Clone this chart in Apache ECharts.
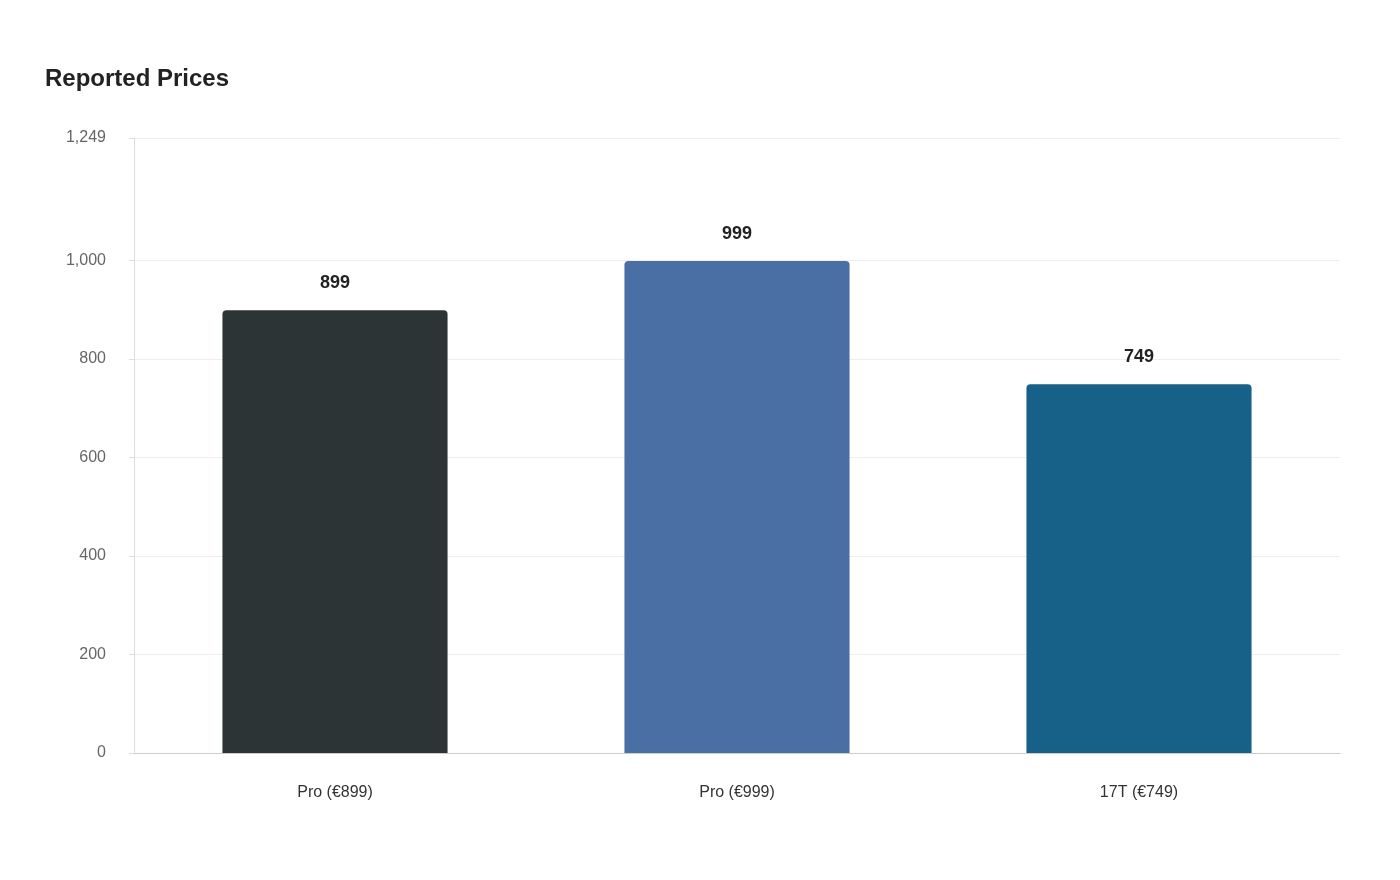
<!DOCTYPE html>
<html>
<head>
<meta charset="utf-8">
<script src="https://cdn.jsdelivr.net/npm/echarts@6/dist/echarts.min.js"></script>
<style>html,body{margin:0;padding:0;background:#fff}#main{width:1400px;height:880px}</style>
</head>
<body>
<div id="main"></div>
<script>
// 报价对比
var categories = ['Pro (€899)', 'Pro (€999)', '17T (€749)'];
var prices = [899, 999, 749];
var barColors = ['#2d3436', '#4a6fa5', '#176087'];
var yTicks = [0, 200, 400, 600, 800, 1000, 1249];

var chart = echarts.init(document.getElementById('main'));
chart.setOption({
	animation: false,
	textStyle: { fontFamily: 'Liberation Sans, Arial, sans-serif' },
	title: {
		text: 'Reported Prices',
		left: 40,
		top: 62,
		textStyle: { fontSize: 24, fontWeight: 'bold', color: '#222' }
	},
	grid: { left: 134, right: 60, top: 138, bottom: 127 },
	xAxis: {
		type: 'category',
		data: categories,
		axisLine: { lineStyle: { color: '#ccc' } },
		axisTick: { show: false },
		axisLabel: { color: '#333', fontSize: 16, margin: 32 }
	},
	yAxis: {
		type: 'value',
		min: 0,
		max: 1249,
		axisLine: { show: true, lineStyle: { color: '#ddd' } },
		axisTick: { show: true, customValues: yTicks, lineStyle: { color: '#ddd' } },
		axisLabel: {
			customValues: yTicks,
			color: '#666',
			fontSize: 16,
			margin: 28,
			formatter: function (v) { return v.toLocaleString('en-US'); }
		},
		splitLine: { show: true, lineStyle: { color: '#eee' } }
	},
	series: [{
		type: 'bar',
		barWidth: '56%',
		data: prices.map(function (v, i) {
			return { value: v, itemStyle: { color: barColors[i], borderRadius: [4, 4, 0, 0] } };
		}),
		label: {
			show: true,
			position: 'top',
			distance: 18,
			fontSize: 18,
			fontWeight: 'bold',
			color: '#222'
		}
	}]
});
</script>
</body>
</html>
